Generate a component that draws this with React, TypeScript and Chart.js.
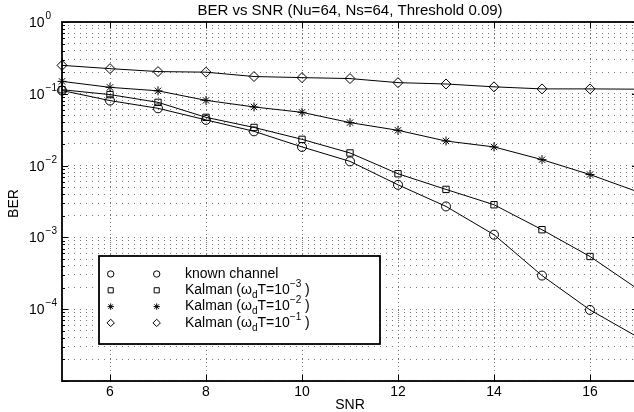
import React, { useEffect, useRef } from 'react';
import { Chart, registerables } from 'chart.js';

Chart.register(...registerables);

// ---- data ----
const snr = [5, 6, 7, 8, 9, 10, 11, 12, 13, 14, 15, 16, 17];
const berKnown = [0.111, 0.0804, 0.0628, 0.0433, 0.030, 0.0182, 0.01145, 0.0054, 0.0027, 0.00109, 0.000294, 0.0000977, 0.0000407];
const berKalman3 = [0.114, 0.0975, 0.076, 0.047, 0.034, 0.0232, 0.015, 0.0077, 0.00466, 0.00285, 0.00128, 0.000542, 0.00019];
const berKalman2 = [0.149, 0.123, 0.11, 0.081, 0.0656, 0.0552, 0.0397, 0.031, 0.022, 0.0182, 0.0121, 0.0075, 0.0043];
const berKalman1 = [0.249, 0.224, 0.204, 0.2, 0.174, 0.168, 0.163, 0.143, 0.137, 0.125, 0.117, 0.117, 0.116];

const xTicks = [6, 8, 10, 12, 14, 16];
const xMin = 5;
const xMax = 17;
const yDecades = [0, -1, -2, -3, -4];
const yMinExp = -5;
const yMaxExp = 0;

const titleText = 'BER vs SNR (Nu=64, Ns=64, Threshold 0.09)';
const xLabel = 'SNR';
const yLabel = 'BER';

type Seg = { t: string; k: 'n' | 'sub' | 'sup' };
const kalmanLabel = (e: string): Seg[] => [
  { t: 'Kalman (\u03c9', k: 'n' },
  { t: 'd', k: 'sub' },
  { t: 'T=10', k: 'n' },
  { t: e, k: 'sup' },
  { t: ' )', k: 'n' },
];
const legendLabels: Seg[][] = [
  [{ t: 'known channel', k: 'n' }],
  kalmanLabel('\u22123'),
  kalmanLabel('\u22122'),
  kalmanLabel('\u22121'),
];
const markers = ['circle', 'rect', 'star', 'rectRot'];
const seriesValues = [berKnown, berKalman3, berKalman2, berKalman1];

// log grid values (1..9 per decade)
const logGrid: { v: number; major: boolean }[] = [];
for (let e = yMinExp; e < yMaxExp; e++) {
  for (let m = 1; m <= 9; m++) logGrid.push({ v: m * Math.pow(10, e), major: m === 1 });
}
logGrid.push({ v: Math.pow(10, yMaxExp), major: true });

const FONT = '"Liberation Sans", Arial, Helvetica, sans-serif';

function drawMarker(ctx: CanvasRenderingContext2D, style: string, x: number, y: number, r: number) {
  ctx.beginPath();
  if (style === 'circle') {
    ctx.arc(x, y, r, 0, Math.PI * 2);
  } else if (style === 'rect') {
    ctx.rect(x - r * 0.8, y - r * 0.8, r * 1.6, r * 1.6);
  } else if (style === 'rectRot') {
    ctx.moveTo(x, y - r * 1.15);
    ctx.lineTo(x + r * 1.15, y);
    ctx.lineTo(x, y + r * 1.15);
    ctx.lineTo(x - r * 1.15, y);
    ctx.closePath();
  } else {
    for (let i = 0; i < 4; i++) {
      const a = (i * Math.PI) / 4;
      ctx.moveTo(x - Math.cos(a) * r, y - Math.sin(a) * r);
      ctx.lineTo(x + Math.cos(a) * r, y + Math.sin(a) * r);
    }
  }
  ctx.stroke();
}

function drawRich(ctx: CanvasRenderingContext2D, segs: Seg[], x: number, y: number) {
  let cx = x;
  for (const s of segs) {
    if (s.k === 'n') {
      ctx.font = `14px ${FONT}`;
      ctx.fillText(s.t, cx, y);
    } else if (s.k === 'sub') {
      ctx.font = `10px ${FONT}`;
      ctx.fillText(s.t, cx, y + 5);
    } else {
      ctx.font = `10px ${FONT}`;
      ctx.fillText(s.t, cx, y - 6);
    }
    cx += ctx.measureText(s.t).width;
  }
}

const decorPlugin = {
  id: 'matlabDecor',
  afterDatasetsDraw(chart: any) {
    const ctx: CanvasRenderingContext2D = chart.ctx;
    const { left, right, top, bottom } = chart.chartArea;
    const xs = chart.scales.x;
    const ys = chart.scales.y;
    ctx.save();
    ctx.strokeStyle = '#000';
    ctx.fillStyle = '#000';

    // ticks (inside)
    ctx.lineWidth = 1;
    ctx.beginPath();
    for (const t of xTicks) {
      const px = Math.round(xs.getPixelForValue(t)) + 0.5;
      ctx.moveTo(px, bottom);
      ctx.lineTo(px, bottom - 6);
      ctx.moveTo(px, top);
      ctx.lineTo(px, top + 6);
    }
    for (const g of logGrid) {
      const py = Math.round(ys.getPixelForValue(g.v)) + 0.5;
      const len = g.major ? 6 : 3;
      ctx.moveTo(left, py);
      ctx.lineTo(left + len, py);
      ctx.moveTo(right, py);
      ctx.lineTo(right - len, py);
    }
    ctx.stroke();

    // box
    ctx.lineWidth = 1.8;
    ctx.strokeRect(left, top, right - left, bottom - top);

    // x tick labels
    ctx.font = `14px ${FONT}`;
    ctx.textAlign = 'center';
    ctx.textBaseline = 'middle';
    for (const t of xTicks) {
      ctx.fillText(String(t), xs.getPixelForValue(t), bottom + 11);
    }
    // y tick labels 10^k
    ctx.textAlign = 'left';
    ctx.textBaseline = 'alphabetic';
    for (const e of yDecades) {
      const py = ys.getPixelForValue(Math.pow(10, e));
      ctx.font = `14px ${FONT}`;
      ctx.fillText('10', 29, py + 5);
      const w = ctx.measureText('10').width;
      ctx.font = `10px ${FONT}`;
      ctx.fillText(e === 0 ? '0' : '\u2212' + String(-e), 29 + w + 1, py - 3);
    }

    // axis titles
    ctx.font = `14px ${FONT}`;
    ctx.textAlign = 'center';
    ctx.textBaseline = 'middle';
    ctx.fillText(xLabel, (left + right) / 2, 405);
    ctx.save();
    ctx.translate(14, (top + bottom) / 2 + 2);
    ctx.rotate(-Math.PI / 2);
    ctx.fillText(yLabel, 0, 0);
    ctx.restore();

    // title
    ctx.font = `15px ${FONT}`;
    ctx.textBaseline = 'alphabetic';
    ctx.fillText(titleText, (left + right) / 2, 15);

    // legend
    const lx = 99, ly = 256, lw = 281, lh = 88;
    ctx.fillStyle = '#fff';
    ctx.fillRect(lx, ly, lw, lh);
    ctx.lineWidth = 1.8;
    ctx.strokeStyle = '#000';
    ctx.strokeRect(lx, ly, lw, lh);
    ctx.fillStyle = '#000';
    ctx.textAlign = 'left';
    ctx.textBaseline = 'middle';
    ctx.lineWidth = 1;
    legendLabels.forEach((segs, i) => {
      const cy = 274 + i * 16.3;
      drawMarker(ctx, markers[i], 110.7, cy, 3.2);
      drawMarker(ctx, markers[i], 156.7, cy, 3.2);
      drawRich(ctx, segs, 185, cy);
    });
    ctx.restore();
  },
};

export default function App() {
  const ref = useRef<HTMLCanvasElement>(null);
  useEffect(() => {
    if (!ref.current) return;
    const datasets = seriesValues.map((vals, i) => ({
      label: legendLabels[i].map((s) => s.t).join(''),
      data: snr.map((x, j) => ({ x, y: vals[j] })),
      borderColor: '#000',
      borderWidth: 1,
      backgroundColor: 'rgba(0,0,0,0)',
      pointStyle: markers[i],
      pointRadius: (c: any) => (c.raw && c.raw.x >= xMax ? 0 : i === 3 ? 5 : 4.5),
      pointBorderColor: '#000',
      pointBackgroundColor: 'rgba(0,0,0,0)',
      pointBorderWidth: 1,
      fill: false,
      tension: 0,
      clip: { left: 8, top: 8, right: 0, bottom: 0 },
    }));
    const chart = new Chart(ref.current, {
      type: 'line',
      data: { datasets },
      plugins: [decorPlugin],
      options: {
        responsive: false,
        maintainAspectRatio: false,
        animation: false,
        devicePixelRatio: 1,
        layout: { padding: { left: 62, top: 22, right: 22, bottom: 31 } },
        plugins: { legend: { display: false }, title: { display: false }, tooltip: { enabled: false } },
        scales: {
          x: {
            type: 'linear',
            min: xMin,
            max: xMax,
            afterBuildTicks: (s: any) => {
              s.ticks = xTicks.map((v) => ({ value: v }));
            },
            ticks: { display: false },
            grid: { color: '#777', lineWidth: 1, drawTicks: false },
            border: { display: false, dash: [1, 3] },
          },
          y: {
            type: 'logarithmic',
            min: Math.pow(10, yMinExp),
            max: Math.pow(10, yMaxExp),
            afterBuildTicks: (s: any) => {
              s.ticks = logGrid.map((g) => ({ value: g.v, major: g.major }));
            },
            ticks: { display: false },
            grid: { color: '#777', lineWidth: 1, drawTicks: false },
            border: { display: false, dash: [1, 5] },
          },
        },
      } as any,
    });
    return () => chart.destroy();
  }, []);
  return (
    <div style={{ position: 'fixed', left: 0, top: 0, width: 634, height: 412, overflow: 'hidden', background: '#fff' }}>
      <canvas ref={ref} width={660} height={412} style={{ display: 'block', width: 660, height: 412 }} />
    </div>
  );
}
